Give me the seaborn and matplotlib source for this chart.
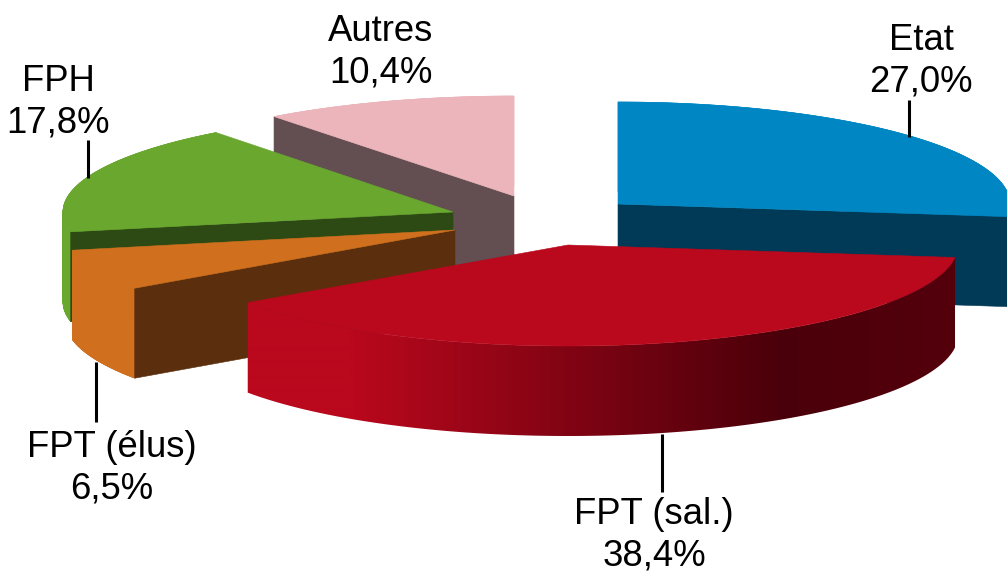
import numpy as np
import matplotlib
matplotlib.use("Agg")
import matplotlib.pyplot as plt
from matplotlib.patches import Polygon
import seaborn as sns

# --- data -------------------------------------------------------------
categories = ["Etat", "FPT (sal.)", "FPT (élus)", "FPH", "Autres"]
shares = [27.0, 38.4, 6.5, 17.8, 10.4]
value_labels = ["27,0%", "38,4%", "6,5%", "17,8%", "10,4%"]

# --- style / layout (pixels of the 1007x573 canvas) ---------------------
top_colors = ["#0087C3", "#BA081D", "#D0701E", "#69A72F", "#ECB5BB"]
wall_colors = ["#003A56", "#BA081D", "#5B2F0D", "#2D4A14", "#634E51"]
slice_apex = {"Etat": (618, 204), "FPT (sal.)": (568, 245), "FPT (élus)": (455, 230),
              "FPH": (453, 212), "Autres": (514, 196)}
slice_radii = {"Etat": (392, 102), "FPT (sal.)": (390, 101), "FPT (élus)": (390, 102),
               "FPH": (390, 100), "Autres": (395, 100)}
visible_wall = {"Etat": "end", "FPT (sal.)": None, "FPT (élus)": "start",
                "FPH": "start", "Autres": "start"}
depth = 90
draw_order = ["Autres", "FPH", "Etat", "FPT (élus)", "FPT (sal.)"]
label_pos = {"Etat": (921, 61), "FPT (sal.)": (654, 535), "FPT (élus)": (112, 468),
             "FPH": (58, 102), "Autres": (381, 52)}
leaders = {"Etat": (909, 100, 137), "FPT (sal.)": (662, 434, 492),
           "FPT (élus)": (96, 362, 422), "FPH": (88, 140, 178)}

sns.set_theme(style="white", rc={"axes.grid": False})
plt.rcParams["font.family"] = ["Liberation Sans", "DejaVu Sans"]

fig, ax = plt.subplots(figsize=(10.07, 5.73), dpi=100)
fig.subplots_adjust(0, 0, 1, 1)
ax.axis("off")

palette = dict(zip(categories, sns.color_palette(top_colors)))
walls = dict(zip(categories, sns.color_palette(wall_colors)))

edges = np.concatenate([[0], np.cumsum(shares)]) / sum(shares) * 2 * np.pi
spans = {c: (edges[i], edges[i + 1]) for i, c in enumerate(categories)}


def rim(cat, a):
    (cx, cy), (rx, ry) = slice_apex[cat], slice_radii[cat]
    return cx + rx * np.sin(a), cy - ry * np.cos(a)


def fill(xs, ys, color):
    ax.fill(xs, ys, color=color, lw=0.4, ec=color, joinstyle="round")


red_x = [247, 350, 780, 957]
red_rgb = np.array([[186, 8, 29], [186, 8, 29], [74, 0, 10], [84, 0, 12]]) / 255
grad_x = np.arange(240, 965)
gradient = np.stack([np.interp(grad_x, red_x, red_rgb[:, k]) for k in range(3)], axis=-1)[None, :, :]

for cat in draw_order:
    a0, a1 = spans[cat]
    ang = np.linspace(a0, a1, 200)
    x, y = rim(cat, ang)
    ax_, ay_ = slice_apex[cat]
    # outer ribbon
    if cat == "FPT (sal.)":
        ribbon = Polygon(np.c_[np.r_[x, x[::-1]], np.r_[y, (y + depth)[::-1]]],
                         closed=True, transform=ax.transData, fc="none", ec="none")
        ax.add_patch(ribbon)
        im = ax.imshow(gradient, extent=(240, 965, 460, 240), aspect="auto",
                       interpolation="bilinear", zorder=2)
        im.set_clip_path(ribbon)
        zorder_top = 3
    else:
        for i in range(len(ang) - 1):
            fill([x[i], x[i + 1], x[i + 1], x[i]],
                 [y[i], y[i + 1], y[i + 1] + depth, y[i] + depth], palette[cat])
        zorder_top = None
    # radial wall
    side = visible_wall[cat]
    if side:
        ex, ey = (x[0], y[0]) if side == "start" else (x[-1], y[-1])
        fill([ax_, ex, ex, ax_], [ay_, ey, ey + depth, ay_ + depth], walls[cat])
    # top face
    top = ax.fill(np.r_[ax_, x], np.r_[ay_, y], color=palette[cat], lw=0.4, ec=palette[cat])
    if zorder_top:
        top[0].set_zorder(zorder_top)

ax.set_xlim(0, 1007)
ax.set_ylim(573, 0)

for cat, (lx, y0, y1) in leaders.items():
    ax.plot([lx, lx], [y0, y1], color="black", lw=2.2, solid_capstyle="butt", zorder=1)

for cat, val in zip(categories, value_labels):
    px, py = label_pos[cat]
    ax.text(px, py, f"{cat}\n{val}", ha="center", va="center", fontsize=26.3,
            color="black", linespacing=1.24, zorder=5)

fig.savefig("out.png", dpi=100)
